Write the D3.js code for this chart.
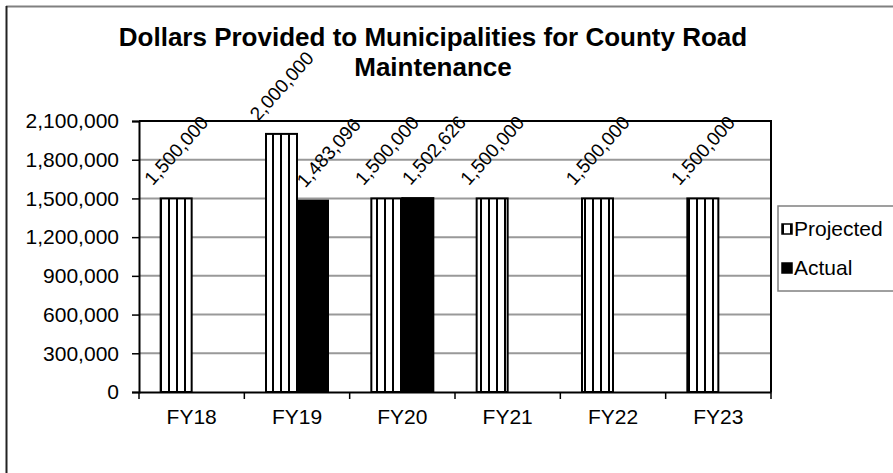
<!DOCTYPE html>
<html>
<head>
<meta charset="utf-8">
<script src="https://cdn.jsdelivr.net/npm/d3@7"></script>
<style>
	body { margin: 0; background: #fff; }
	svg { display: block; font-family: "Liberation Sans", Arial, sans-serif; }
</style>
</head>
<body>
<svg id="chart"></svg>
<script>
/*
 *  Clustered bar chart: county road maintenance dollars.
 */

const years = ['FY18', 'FY19', 'FY20', 'FY21', 'FY22', 'FY23'];
const seriesNames = ['Projected', 'Actual'];
const projected = [1500000, 2000000, 1500000, 1500000, 1500000, 1500000];
const actual = [null, 1483096, 1502626, null, null, null];
const yTicks = [0, 300000, 600000, 900000, 1200000, 1500000, 1800000, 2100000];
const titleLines = ['Dollars Provided to Municipalities for County Road', 'Maintenance'];

const W = 893, H = 473, FONT_SIZE = 21, LABEL_SIZE = 19;
const plot = { left: 139, right: 771, top: 121, bottom: 392 };

const svg = d3.select('svg#chart').attr('width', W).attr('height', H);

// vertical stripe fill used by the projected bars
const defs = svg.append('defs');
const pat = defs.append('pattern').attr('id', 'stripes')
	.attr('patternUnits', 'userSpaceOnUse').attr('width', 8).attr('height', 8);
pat.append('rect').attr('width', 8).attr('height', 8).attr('fill', 'white');
pat.append('rect').attr('x', 0).attr('width', 2).attr('height', 8).attr('fill', 'black');

// outer chart frame (only top and left are visible)
svg.append('line').attr('x1', 6).attr('x2', W).attr('y1', 6.5).attr('y2', 6.5)
	.attr('stroke', '#808080').attr('stroke-width', 2);
svg.append('line').attr('x1', 6.5).attr('x2', 6.5).attr('y1', 6).attr('y2', H)
	.attr('stroke', '#222').attr('stroke-width', 2);

// title
svg.append('text')
	.attr('x', 433).attr('y', 46)
	.attr('text-anchor', 'middle')
	.attr('font-size', '26px').attr('font-weight', 'bold')
	.selectAll('tspan').data(titleLines).join('tspan')
	.attr('x', 433).attr('dy', (d, i) => i ? 30 : 0)
	.text(d => d);

// scales
const x0 = d3.scaleBand().domain(years).range([plot.left, plot.right]).padding(0);
const x1 = d3.scaleBand().domain(seriesNames).range([0, 62]);
const barOffset = (x0.bandwidth() - 62) / 2;
const y = d3.scaleLinear().domain([0, 2100000]).range([plot.bottom, plot.top]);
const fmt = d3.format(',');

// gridlines
svg.append('g').selectAll('line').data(yTicks.slice(1, -1)).join('line')
	.attr('x1', plot.left).attr('x2', plot.right)
	.attr('y1', d => y(d)).attr('y2', d => y(d))
	.attr('stroke', '#999').attr('stroke-width', 2);

// plot area frame (top and right)
svg.append('path')
	.attr('d', `M${plot.left},${plot.top}H${plot.right}V${plot.bottom}`)
	.attr('fill', 'none').attr('stroke', 'black').attr('stroke-width', 2);

// y axis
const yAxis = svg.append('g')
	.attr('transform', `translate(${plot.left},0)`)
	.call(d3.axisLeft(y).tickValues(yTicks).tickFormat(fmt).tickSize(7).tickPadding(13));
yAxis.select('.domain').attr('stroke-width', 2);
yAxis.selectAll('.tick line').attr('stroke-width', 1.5);
yAxis.selectAll('text').attr('font-size', FONT_SIZE + 'px').attr('fill', 'black')
	.attr('font-family', '"Liberation Sans", Arial, sans-serif');

// x axis, ticks between categories
const xAxis = svg.append('g')
	.attr('transform', `translate(0,${plot.bottom})`)
	.call(d3.axisBottom(x0).tickSize(0).tickPadding(17));
xAxis.select('.domain').attr('stroke-width', 2);
xAxis.selectAll('text').attr('font-size', FONT_SIZE + 'px').attr('fill', 'black')
	.attr('font-family', '"Liberation Sans", Arial, sans-serif');
svg.append('g').selectAll('line').data(years.concat(['end'])).join('line')
	.attr('x1', (d, i) => plot.left + i * x0.bandwidth())
	.attr('x2', (d, i) => plot.left + i * x0.bandwidth())
	.attr('y1', plot.bottom).attr('y2', plot.bottom + 7)
	.attr('stroke', 'black').attr('stroke-width', 1.5);

// bars
const rows = [];
years.forEach((yr, i) => {
	rows.push({ year: yr, series: 'Projected', value: projected[i] });
	if (actual[i] !== null) rows.push({ year: yr, series: 'Actual', value: actual[i] });
});

svg.append('g').selectAll('rect').data(rows).join('rect')
	.attr('x', d => x0(d.year) + barOffset + x1(d.series))
	.attr('y', d => y(d.value))
	.attr('width', x1.bandwidth())
	.attr('height', d => y(0) - y(d.value))
	.attr('fill', d => d.series === 'Projected' ? 'url(#stripes)' : 'black')
	.attr('stroke', 'black').attr('stroke-width', 2);

// rotated value labels above the bars
svg.append('g').selectAll('text').data(rows).join('text')
	.attr('transform', d => {
		const cx = x0(d.year) + barOffset + x1(d.series) + x1.bandwidth() / 2
			+ (d.series === 'Actual' ? 16 : 0);
		return `translate(${cx},${y(d.value) - 48}) rotate(-48)`;
	})
	.attr('text-anchor', 'middle')
	.attr('dy', '0.35em')
	.attr('font-size', LABEL_SIZE + 'px')
	.text(d => fmt(d.value));

// legend
const legend = svg.append('g').attr('transform', 'translate(778,206)');
legend.append('rect').attr('width', 130).attr('height', 85)
	.attr('fill', 'white').attr('stroke', '#808080').attr('stroke-width', 1.5);
const li = legend.selectAll('g').data(seriesNames).join('g')
	.attr('transform', (d, i) => `translate(4,${23 + i * 39})`);
li.append('rect').attr('x', 0).attr('y', -5).attr('width', 10).attr('height', 10)
	.attr('fill', d => d === 'Projected' ? 'url(#stripes)' : 'black')
	.attr('stroke', 'black').attr('stroke-width', 1.5);
li.append('text').attr('x', 12).attr('dy', '0.35em')
	.attr('font-size', FONT_SIZE + 'px').text(d => d);
</script>
</body>
</html>
